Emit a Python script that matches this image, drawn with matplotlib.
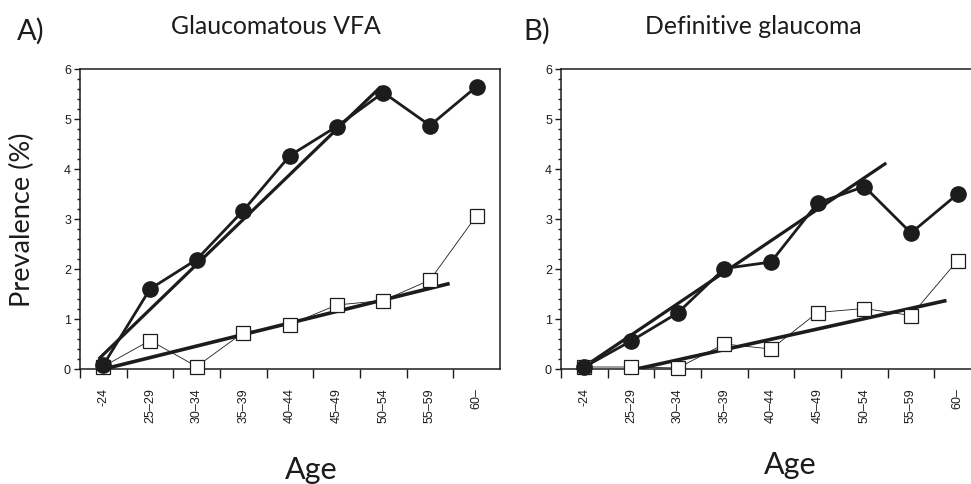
import numpy as np
import matplotlib
matplotlib.use("Agg")
import matplotlib.pyplot as plt
from matplotlib.ticker import MultipleLocator, FixedLocator

ages = ["-24", "25–29", "30–34", "35–39", "40–44", "45–49", "50–54", "55–59", "60–"]

# A) glaucomatous VFA
vfa_filled = [0.08, 1.6, 2.19, 3.17, 4.27, 4.85, 5.53, 4.87, 5.65]
vfa_open = [0.05, 0.57, 0.05, 0.73, 0.89, 1.28, 1.37, 1.78, 3.07]
vfa_fit_filled_x = [-0.1, 5.95]
vfa_fit_filled_y = [0.2, 5.65]
vfa_fit_open_x = [0.1, 7.42]
vfa_fit_open_y = [0.02, 1.71]

# B) definitive glaucoma
glc_filled = [0.04, 0.56, 1.12, 2.01, 2.14, 3.32, 3.65, 2.72, 3.5]
glc_open = [0.04, 0.04, 0.02, 0.5, 0.4, 1.13, 1.21, 1.07, 2.17]
glc_fit_filled_x = [0.05, 6.47]
glc_fit_filled_y = [0.08, 4.12]
glc_fit_open_x = [1.12, 7.76]
glc_fit_open_y = [0.0, 1.37]

ink = '#1c1c1c'
tfont = 'Lato'
tickfont = 'Liberation Sans'

fig = plt.figure(figsize=(9.71, 4.85), dpi=100)
ax1 = fig.add_axes([80/971, 115/485, 420/971, 300/485])
ax2 = fig.add_axes([561/971, 115/485, 420/971, 300/485])

def draw(ax, filled, opened, fx, fy, ox, oy):
    x = np.arange(len(ages))
    ax.plot(fx, fy, color=ink, lw=2.3, solid_capstyle='butt', zorder=2)
    ax.plot(ox, oy, color=ink, lw=2.6, solid_capstyle='butt', zorder=2)
    ax.plot(x, opened, color=ink, lw=0.6, marker='s', ms=9.5, mfc='white',
            mec=ink, mew=0.9, zorder=3, clip_on=False)
    ax.plot(x, filled, color=ink, lw=2.0, marker='o', ms=11, mfc=ink,
            mec=ink, zorder=4, clip_on=False)
    ax.set_xlim(-0.5, 8.5)
    ax.set_ylim(0, 6)
    for s in ax.spines.values():
        s.set_color(ink)
        s.set_linewidth(1.1)
    ax.yaxis.set_major_locator(MultipleLocator(1))
    ax.yaxis.set_minor_locator(MultipleLocator(0.2))
    ax.tick_params(axis='y', which='major', direction='out', length=4,
                   width=1.0, color=ink, pad=2.5, labelsize=9)
    ax.tick_params(axis='y', which='minor', direction='out', length=2.2,
                   width=1.0, color=ink)
    ax.xaxis.set_major_locator(FixedLocator(np.arange(-0.5, 8, 1.0)))
    ax.xaxis.set_minor_locator(FixedLocator(x))
    ax.set_xticklabels([], minor=False)
    ax.set_xticklabels(ages, minor=True, rotation=90)
    ax.tick_params(axis='x', which='major', direction='out', length=6.5,
                   width=1.0, color=ink)
    ax.tick_params(axis='x', which='minor', length=0, pad=13, labelsize=9)
    for lab in ax.get_xticklabels(minor=True) + ax.get_yticklabels():
        lab.set_fontfamily(tickfont)
        lab.set_color(ink)

draw(ax1, vfa_filled, vfa_open, vfa_fit_filled_x, vfa_fit_filled_y,
     vfa_fit_open_x, vfa_fit_open_y)
draw(ax2, glc_filled, glc_open, glc_fit_filled_x, glc_fit_filled_y,
     glc_fit_open_x, glc_fit_open_y)

def ftxt(x, y, s, **kw):
    fig.text(x/971, 1 - y/485, s, family=tfont, color=ink, **kw)

ftxt(17, 31, "A)", fontsize=21, ha='left', va='center')
ftxt(276, 26, "Glaucomatous VFA", fontsize=17.8, ha='center', va='center')
ftxt(523, 31, "B)", fontsize=21, ha='left', va='center')
ftxt(753, 26, "Definitive glaucoma", fontsize=17.8, ha='center', va='center')
ftxt(22, 220, "Prevalence (%)", fontsize=19.5, ha='center', va='center',
     rotation=90)
ftxt(311, 470, "Age", fontsize=22, ha='center', va='center')
ftxt(790, 465, "Age", fontsize=22, ha='center', va='center')

fig.savefig("out.png", dpi=100)
